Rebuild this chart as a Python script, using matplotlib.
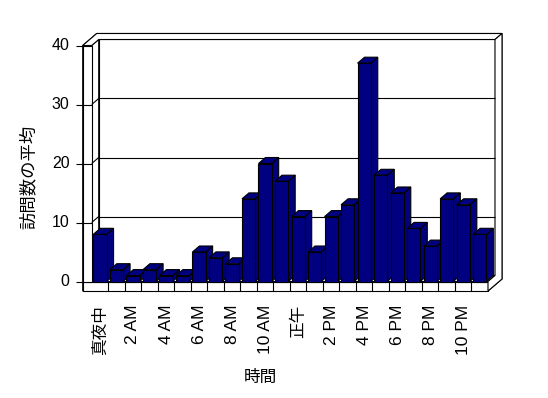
import matplotlib
matplotlib.use("Agg")
import matplotlib.pyplot as plt
from matplotlib.patches import Polygon

plt.rcParams['font.family'] = ['Liberation Sans', 'Noto Sans CJK JP']

# 時間ごとの訪問数の平均
hours = list(range(24))
visits = [8, 2, 1, 2, 1, 1, 5, 4, 3, 14, 20, 17, 11, 5, 11, 13, 37, 18, 15, 9, 6, 14, 13, 8]
tick_labels = ['真夜中', '2 AM', '4 AM', '6 AM', '8 AM', '10 AM',
               '正午', '2 PM', '4 PM', '6 PM', '8 PM', '10 PM']
y_ticks = [0, 10, 20, 30, 40]

W, H = 548, 398
left_px, right_px = 91.7, 488.0
top_px, base_px = 45.5, 281.5

fig = plt.figure(figsize=(W / 100, H / 100), dpi=100)
ax = fig.add_axes([left_px / W, 1 - base_px / H,
                   (right_px - left_px) / W, (base_px - top_px) / H])
X0, X1 = -0.5, 23.5
ax.set_xlim(X0, X1)
ax.set_ylim(0, 40)
ax.axis('off')

# pixel -> data
sx = (right_px - left_px) / 24
sy = (base_px - top_px) / 40
dx, dy = 7 / sx, 6 / sy          # 奥行き
tL, tF = 9 / sx, 9.5 / sy        # 壁と床の厚さ
lw = 0.8


def poly(pts, z=1, fc='white'):
    ax.add_patch(Polygon(pts, closed=True, fc=fc, ec='black', lw=lw,
                         clip_on=False, zorder=z, joinstyle='miter'))


def line(xs, ys, z=1.5):
    ax.plot(xs, ys, color='black', lw=lw, clip_on=False, zorder=z,
            solid_capstyle='butt')


# 外枠
A = (X0 - tL, 40)
B = (X0 - tL + 2 * dx, 40 + 2 * dy)
C = (X1 + 2 * dx, 40 + 2 * dy)
D = (X1 + 2 * dx, -tF + 2 * dy)
E = (X1, -tF)
F = (X0 - tL, -tF)
poly([A, B, C, D, E, F])

# 奥の壁
poly([(X0 + dx, dy), (X1 + dx, dy), (X1 + dx, 40 + dy), (X0 + dx, 40 + dy)])
# 左の壁
poly([(X0, 0), (X0, 40), (X0 + dx, 40 + dy), (X0 + dx, dy)])
# 床の上面
poly([(X0, 0), (X1, 0), (X1 + dx, dy), (X0 + dx, dy)])
# 床の前面
poly([F, E, (X1, 0), (X0 - tL, 0)])
# 左の壁の前面
poly([(X0 - tL, 0), (X0, 0), (X0, 40), A])
# 上の縁
poly([A, B, C, (X1 + dx, 40 + dy), (X0 + dx, 40 + dy), (X0, 40)])
# 右の縁
poly([(X1 + dx, 40 + dy), C, D, E, (X1, 0), (X1 + dx, dy)])

# 目盛線
for v in y_ticks:
    if 0 < v < 40:
        line([X0 + dx, X1 + dx], [v + dy, v + dy])
        line([X0, X0 + dx], [v, v + dy])
        line([X0 - tL, X0], [v, v])
    line([X0 - tL - 7 / sx, X0 - tL], [v, v])
    ax.text(X0 - tL - 13 / sx, v, str(v), ha='right', va='center', fontsize=11.5)

for k in hours[:-1]:
    line([k + 0.5, k + 0.5], [-tF, 0])

# 棒
bw = 0.8
for x, v in zip(hours, visits):
    xl, xr = x - bw / 2, x + bw / 2
    poly([(xr, 0), (xr, v), (xr + dx, v + dy), (xr + dx, dy)], z=3, fc='#000080')
    poly([(xl, v), (xr, v), (xr + dx, v + dy), (xl + dx, v + dy)], z=3, fc='#000080')
ax.bar(hours, visits, width=bw, color='#000080', edgecolor='black', lw=lw,
       zorder=4, clip_on=False)

# ラベル
for i, lab in enumerate(tick_labels):
    size = 12.5 if lab.isascii() else 12
    ax.text(hours[i * 2], -(305 - base_px) / sy, lab, rotation=90,
            ha='center', va='top', fontsize=size)

ax.text(X0 - (left_px - 28) / sx, (base_px - 177) / sy, '訪問数の平均',
        rotation=90, ha='center', va='center', fontsize=12.5)
ax.text((260 - left_px) / sx + X0, -(377 - base_px) / sy, '時間',
        ha='center', va='center', fontsize=12)

fig.savefig('out.png', dpi=100, facecolor='white')
